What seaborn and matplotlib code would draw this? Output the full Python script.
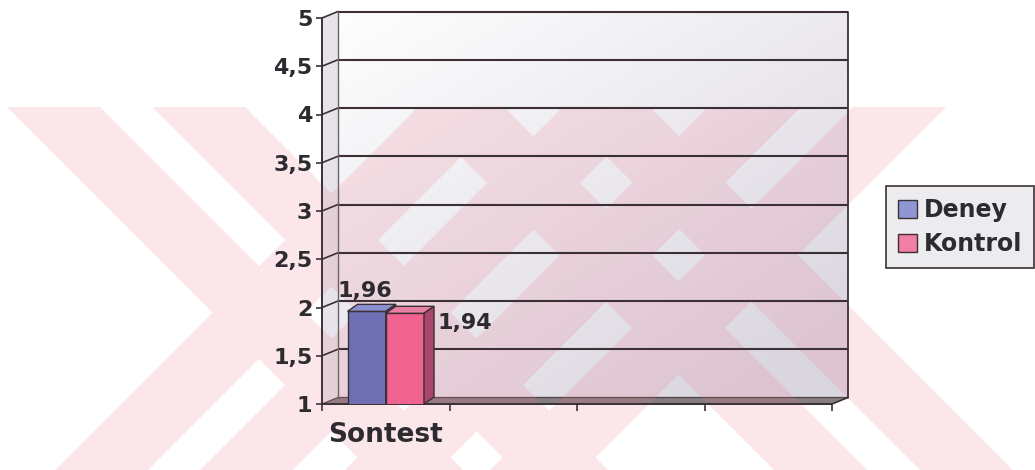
import numpy as np
import pandas as pd
import matplotlib
matplotlib.use("Agg")
import matplotlib.pyplot as plt
import seaborn as sns
from matplotlib.patches import Polygon, Patch, PathPatch
from matplotlib.path import Path

# ---------------- data ----------------
categories = ["Sontest"]
groups = ["Deney", "Kontrol"]
deney_values = [1.96]
kontrol_values = [1.94]
deney_labels = ["1,96"]
kontrol_labels = ["1,94"]
y_ticks = [1, 1.5, 2, 2.5, 3, 3.5, 4, 4.5, 5]
y_tick_labels = ["1", "1,5", "2", "2,5", "3", "3,5", "4", "4,5", "5"]
n_slots = 4  # category slots on the x axis (only the first one holds data)

# ---------------- style ----------------
W, H = 1035, 470
sns.set_theme(style="white")
plt.rcParams["font.family"] = ["DejaVu Sans"]
plt.rcParams["axes.axisbelow"] = False

TXT = "#2e2b30"
LINE = "#3b3036"
front = {"Deney": "#6e70b3", "Kontrol": "#f0628f"}
top_c = {"Deney": "#8c90d0", "Kontrol": "#e97fa3"}
side_c = {"Deney": "#4f5190", "Kontrol": "#a9466b"}
swatch = {"Deney": "#8e97d4", "Kontrol": "#f17ea4"}

fig = plt.figure(figsize=(W / 100, H / 100), dpi=100)
fig.patch.set_facecolor("white")
ax = fig.add_axes([322 / W, 1 - 404 / H, 510 / W, 386 / H])
ax.set_facecolor("none")

df = pd.DataFrame({
    "Test": categories * len(groups),
    "Grup": list(np.repeat(groups, len(categories))),
    "Ortalama": deney_values + kontrol_values,
})
sns.barplot(data=df, x="Test", y="Ortalama", hue="Grup", order=categories,
            hue_order=groups, palette=front, width=0.6, saturation=1,
            edgecolor=LINE, linewidth=1.0, legend=False, ax=ax)
bars = list(ax.patches)
ax.set_xlim(-0.5, n_slots - 0.5)
ax.set_ylim(y_ticks[0], y_ticks[-1])
x_lo, x_hi = ax.get_xlim()
y_lo, y_hi = ax.get_ylim()

# pixel -> data unit conversion for the 3D depth offsets
p0 = ax.transData.transform((0, 1))
p1 = ax.transData.transform((1, 2))
sx, sy = p1 - p0
wdx, wdy = 16 / sx, 6.5 / sy     # wall depth
bdx, bdy = 10 / sx, 7 / sy       # bar depth

# ---------------- back wall (gradient) ----------------
nx, ny = 200, 100
gx = np.linspace(0, 1, nx)[None, :]
gy = np.linspace(0, 1, ny)[:, None]
t = np.clip(0.5 * gx + 0.6 * gy, 0, 1)
c0 = np.array([254, 254, 254]) / 255
c1 = np.array([218, 214, 224]) / 255
img = c0 + (c1 - c0) * t[..., None]
ax.imshow(img, extent=(x_lo + wdx, x_hi + wdx, y_lo + wdy, y_hi + wdy),
          origin="upper", aspect="auto", zorder=0.5, clip_on=False,
          interpolation="bilinear")
ax.set_xlim(x_lo, x_hi)
ax.set_ylim(y_lo, y_hi)

side = Polygon([(x_lo, y_lo), (x_lo, y_hi), (x_lo + wdx, y_hi + wdy), (x_lo + wdx, y_lo + wdy)],
               closed=True, facecolor="#e6e4ea", edgecolor="none", zorder=0.5, clip_on=False)
ax.add_patch(side)
floor = Polygon([(x_lo, y_lo), (x_hi, y_lo), (x_hi + wdx, y_lo + wdy), (x_lo + wdx, y_lo + wdy)],
                closed=True, facecolor="#857d82", edgecolor="#4a4246", linewidth=0.9,
                zorder=0.6, clip_on=False)
ax.add_patch(floor)

# ---------------- watermark (decorative diagonal lattice in the background) ----------------
def fig_pt(x, y):
    return (x / W, 1 - y / H)

band = 93
y_top, y_bot = 107, 480
polys = []
for a in (-100, 45, 304, 450):          # "\" bands: x - y in [a, a + band]
    polys.append([(a + y_top, y_top), (a + band + y_top, y_top),
                  (a + band + y_bot, y_bot), (a + y_bot, y_bot)])
for c in (525, 670, 815, 960):          # "/" bands: x + y in [c, c + band]
    polys.append([(c - y_top, y_top), (c + band - y_top, y_top),
                  (c + band - y_bot, y_bot), (c - y_bot, y_bot)])

verts, codes = [], []
for p in polys:
    pts = [fig_pt(x, y) for x, y in p]
    area = 0.5 * sum(pts[i][0] * pts[(i + 1) % len(pts)][1] - pts[(i + 1) % len(pts)][0] * pts[i][1]
                     for i in range(len(pts)))
    if area < 0:
        pts = pts[::-1]
    verts += pts + [pts[0]]
    codes += [Path.MOVETO] + [Path.LINETO] * (len(pts) - 1) + [Path.CLOSEPOLY]
wm = PathPatch(Path(verts, codes), facecolor="#eb768b", edgecolor="none", alpha=0.18,
               transform=fig.transFigure, clip_on=False, zorder=1)
ax.add_patch(wm)

# ---------------- wall gridlines & edges ----------------
for v in y_ticks[1:]:
    ax.plot([x_lo + wdx, x_hi + wdx], [v + wdy, v + wdy], color=LINE, lw=1.5,
            clip_on=False, zorder=2, solid_capstyle="butt")
    ax.plot([x_lo, x_lo + wdx], [v, v + wdy], color=LINE, lw=1.2, clip_on=False, zorder=2)
ax.plot([x_lo + wdx, x_lo + wdx], [y_lo + wdy, y_hi + wdy], color="#6a6469", lw=1.0,
        clip_on=False, zorder=2)
ax.plot([x_hi + wdx, x_hi + wdx], [y_lo + wdy, y_hi + wdy], color=LINE, lw=1.3,
        clip_on=False, zorder=2)
ax.plot([x_hi, x_hi + wdx], [y_lo, y_lo + wdy], color=LINE, lw=1.0, clip_on=False, zorder=2)

# ---------------- 3D bar faces and value labels ----------------
label_sets = {"Deney": deney_labels, "Kontrol": kontrol_labels}
for i, bar in enumerate(bars):
    g = groups[i // len(categories)]
    k = i % len(categories)
    x0, w = bar.get_x(), bar.get_width()
    top = bar.get_y() + bar.get_height()
    bot = max(bar.get_y(), y_lo)
    z = 4 + i
    bar.set_zorder(z)
    top_face = Polygon([(x0, top), (x0 + w, top), (x0 + w + bdx, top + bdy), (x0 + bdx, top + bdy)],
                       closed=True, facecolor=top_c[g], edgecolor=LINE, linewidth=1.0, zorder=z + 0.1)
    side_face = Polygon([(x0 + w, bot), (x0 + w, top), (x0 + w + bdx, top + bdy), (x0 + w + bdx, bot + bdy)],
                        closed=True, facecolor=side_c[g], edgecolor=LINE, linewidth=1.0, zorder=z + 0.1)
    ax.add_patch(top_face)
    ax.add_patch(side_face)
    lab = label_sets[g][k]
    if i // len(categories) == 0:
        ax.annotate(lab, xy=(x0 + w / 2 + bdx / 2, top + bdy), xytext=(-7, 7),
                    textcoords="offset pixels", ha="center", va="baseline",
                    fontsize=16, fontweight="bold", color=TXT, zorder=10, annotation_clip=False)
    else:
        ax.annotate(lab, xy=(x0 + w + bdx, top), xytext=(3, -10),
                    textcoords="offset pixels", ha="left", va="center",
                    fontsize=16, fontweight="bold", color=TXT, zorder=10, annotation_clip=False)

# ---------------- axes, ticks ----------------
ax.set_xlabel("")
ax.set_ylabel("")
ax.set_yticks(y_ticks, y_tick_labels)
ax.tick_params(axis="y", direction="out", length=4.5, width=1.2, color=LINE, pad=2.5,
               labelsize=16, labelcolor=TXT, left=True)
for lab in ax.get_yticklabels():
    lab.set_fontweight("bold")
ax.set_xticks(np.arange(n_slots + 1) - 0.5)
ax.set_xticklabels([""] * (n_slots + 1))
ax.set_xticks(range(len(categories)), categories, minor=True)
ax.tick_params(axis="x", which="major", direction="out", length=5, width=1.2, color=LINE, bottom=True)
ax.tick_params(axis="x", which="minor", length=0, pad=13, labelsize=19, labelcolor=TXT, bottom=True)
for lab in ax.get_xticklabels(minor=True):
    lab.set_fontweight("bold")

for sp in ("top", "right"):
    ax.spines[sp].set_visible(False)
for sp in ("left", "bottom"):
    ax.spines[sp].set_color(LINE)
    ax.spines[sp].set_linewidth(1.4)
    ax.spines[sp].set_zorder(3)

# ---------------- legend ----------------
handles = [Patch(facecolor=swatch[g], edgecolor=LINE, linewidth=1.0) for g in groups]
leg = ax.legend(handles, groups, loc="upper left", bbox_to_anchor=(886 / W, 1 - 186 / H),
                bbox_transform=fig.transFigure, frameon=True, fancybox=False,
                edgecolor=LINE, facecolor="#ececee", framealpha=1, borderpad=0.5,
                handlelength=0.8, handleheight=0.8, handletextpad=0.3, labelspacing=0.45,
                borderaxespad=0, prop={"size": 17, "weight": "bold"})
for tx in leg.get_texts():
    tx.set_color(TXT)
leg.get_frame().set_linewidth(1.2)

fig.savefig("out.png", dpi=100)
